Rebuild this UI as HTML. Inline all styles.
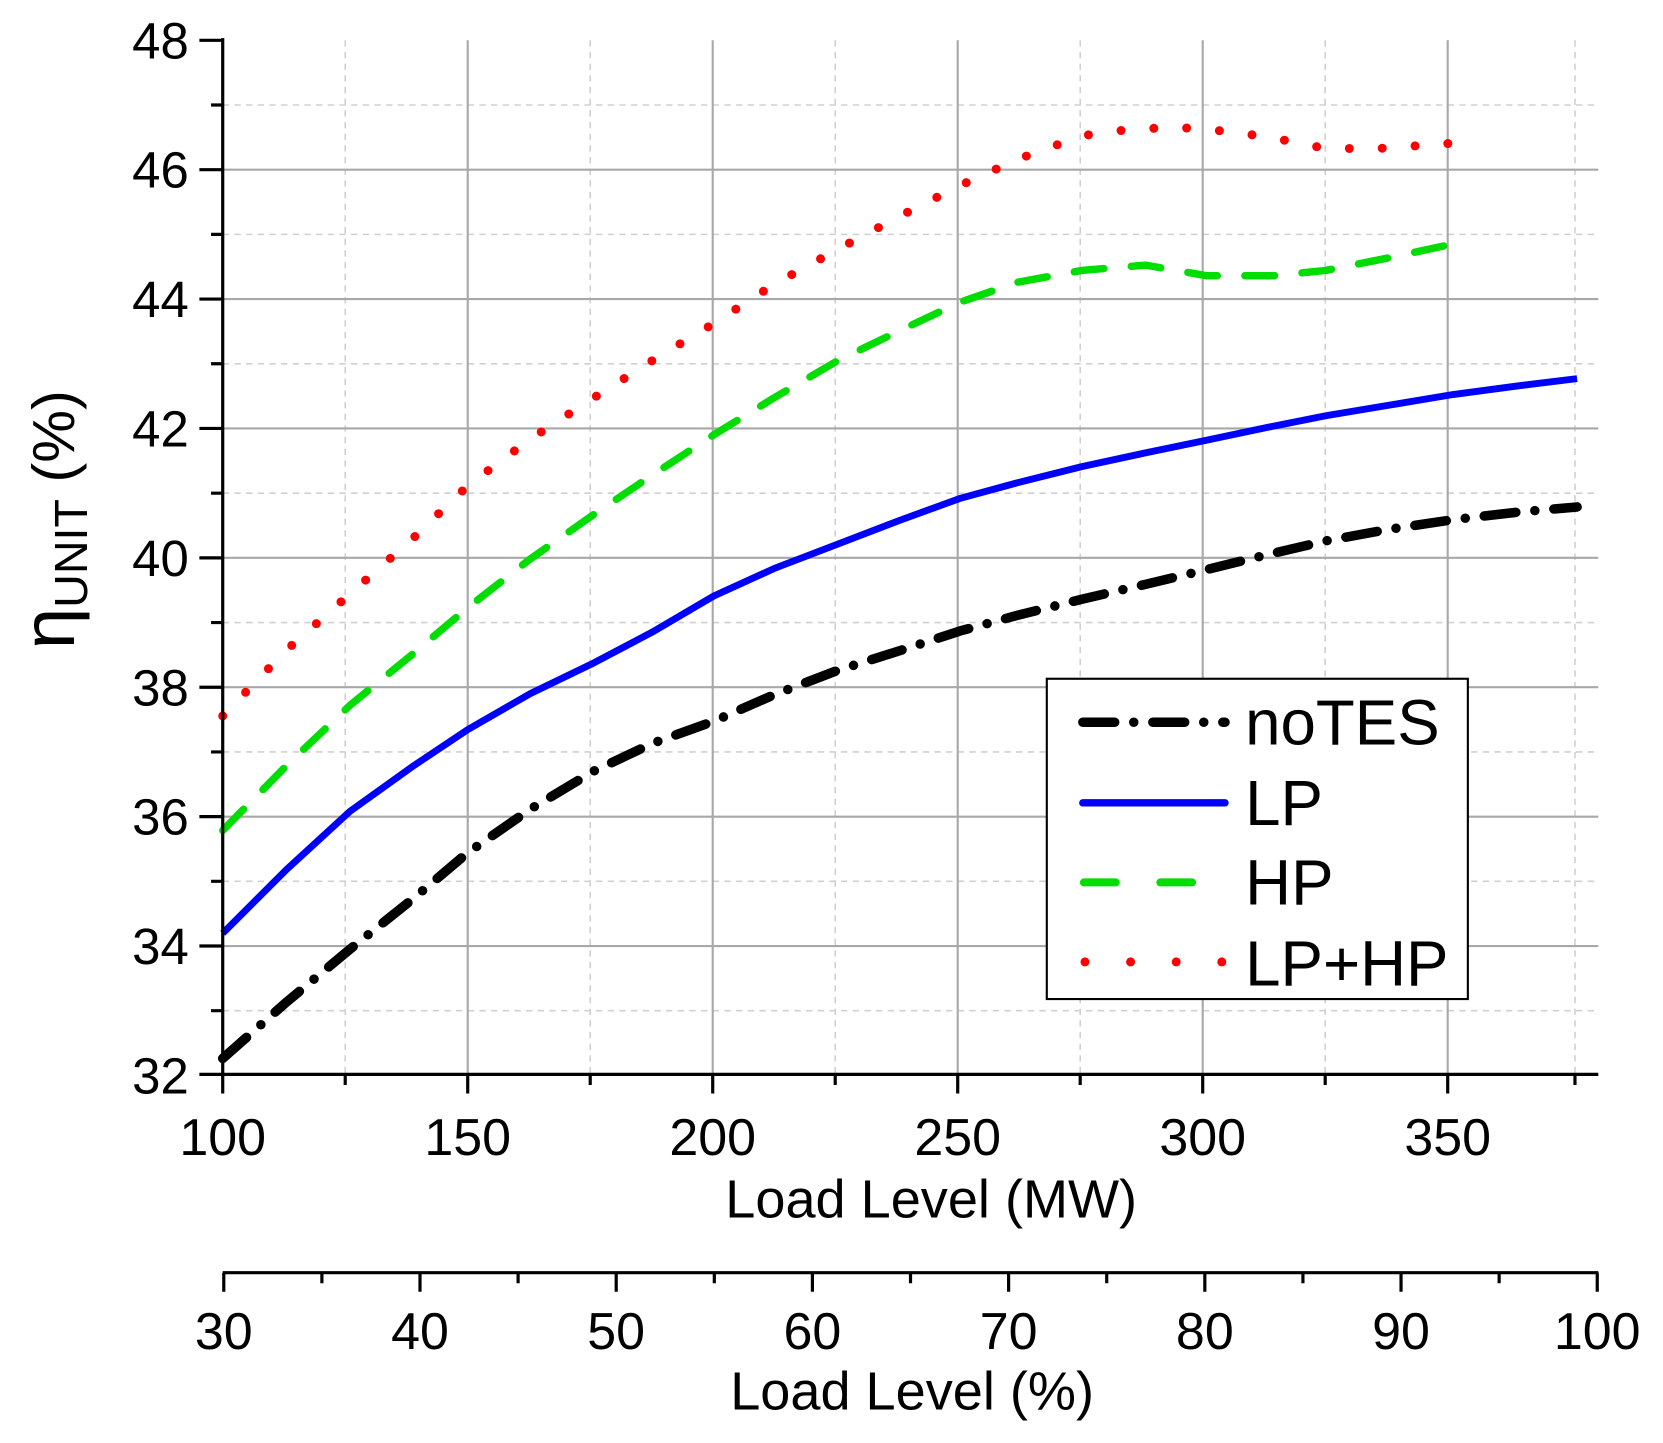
<!DOCTYPE html>
<html><head><style>html,body{margin:0;padding:0;background:#fff}svg{display:block}</style></head><body>
<svg width="1663" height="1443" viewBox="0 0 1568 1360.6" preserveAspectRatio="none" xmlns="http://www.w3.org/2000/svg" font-family="Liberation Sans, Arial, sans-serif">
<g stroke="#d0d0d0" stroke-width="1.5" stroke-dasharray="6 5">
<line x1="325.5" y1="38" x2="325.5" y2="1013"/><line x1="556.5" y1="38" x2="556.5" y2="1013"/><line x1="787.5" y1="38" x2="787.5" y2="1013"/><line x1="1018.5" y1="38" x2="1018.5" y2="1013"/><line x1="1249.5" y1="38" x2="1249.5" y2="1013"/><line x1="1485" y1="38" x2="1485" y2="1013"/>
<line x1="210" y1="99" x2="1507" y2="99"/><line x1="210" y1="221" x2="1507" y2="221"/><line x1="210" y1="343" x2="1507" y2="343"/><line x1="210" y1="465" x2="1507" y2="465"/><line x1="210" y1="587" x2="1507" y2="587"/><line x1="210" y1="709" x2="1507" y2="709"/><line x1="210" y1="831" x2="1507" y2="831"/><line x1="210" y1="953" x2="1507" y2="953"/>
</g>
<g stroke="#a8a8a8" stroke-width="2">
<line x1="441" y1="38" x2="441" y2="1013"/><line x1="672" y1="38" x2="672" y2="1013"/><line x1="903" y1="38" x2="903" y2="1013"/><line x1="1134" y1="38" x2="1134" y2="1013"/><line x1="1365" y1="38" x2="1365" y2="1013"/>
<line x1="210" y1="160" x2="1507" y2="160"/><line x1="210" y1="282" x2="1507" y2="282"/><line x1="210" y1="404" x2="1507" y2="404"/><line x1="210" y1="526" x2="1507" y2="526"/><line x1="210" y1="648" x2="1507" y2="648"/><line x1="210" y1="770" x2="1507" y2="770"/><line x1="210" y1="892" x2="1507" y2="892"/>
</g>
<g fill="none" stroke-linejoin="round">
<polyline stroke="#000" stroke-width="9" stroke-linecap="round" stroke-dasharray="30 18 0 18" points="210,998 270,945 330,895 390,847 441,804 500,763 560,727 615,701 673,680 730,655 790,632 850,613 905,595 960,580 1020,565 1080,551 1138,537 1195,523 1250,510 1310,499 1370,490 1430,483 1487,478"/>
<polyline stroke="#0000ff" stroke-width="6.5" points="210,880 270,820 330,765 390,722 441,688 500,654 560,625 615,596 673,562 730,536 790,513 850,490 905,470 960,455 1020,440 1080,427 1138,415 1195,403 1250,392 1310,382 1370,372 1430,364 1487,357"/>
<polyline stroke="#00dd00" stroke-width="7" stroke-linecap="round" stroke-dasharray="28 26" points="210,783 270,722 330,665 390,616 441,573 500,527 560,485 615,448 673,410 730,375 790,340 850,311 905,285 960,266 1020,255 1080,250 1138,260 1200,260 1250,255 1310,243 1370,230"/>
<polyline stroke="#ff0000" stroke-width="8.5" stroke-linecap="round" stroke-dasharray="0 31" points="210,675 270,613 330,560 390,507 441,458 500,414 560,375 615,340 673,305 730,268 790,235 850,203 905,175 960,150 1020,128 1065,122 1110,120 1160,124 1200,130 1250,140 1300,140 1370,135"/>
</g>
<g stroke="#000" stroke-width="3" fill="none">
<line x1="210" y1="36" x2="210" y2="1015"/><line x1="208" y1="1013" x2="1507" y2="1013"/>
<path d="M188 38H210M188 160H210M188 282H210M188 404H210M188 526H210M188 648H210M188 770H210M188 892H210M188 1013H210M199 99H210M199 221H210M199 343H210M199 465H210M199 587H210M199 709H210M199 831H210M199 953H210"/>
<path d="M210 1013V1031M441 1013V1031M672 1013V1031M903 1013V1031M1134 1013V1031M1365 1013V1031M325.5 1013V1023M556.5 1013V1023M787.5 1013V1023M1018.5 1013V1023M1249.5 1013V1023M1485 1013V1023"/>
<line x1="210" y1="1200" x2="1507" y2="1200"/>
<path d="M211 1200V1218M396 1200V1218M581 1200V1218M766 1200V1218M951 1200V1218M1136 1200V1218M1321 1200V1218M1506 1200V1218M303.5 1200V1210M488.5 1200V1210M673.5 1200V1210M858.5 1200V1210M1043.5 1200V1210M1228.5 1200V1210M1413.5 1200V1210"/>
</g>
<g font-size="48" fill="#000" text-anchor="end">
<text x="178" y="55">48</text><text x="178" y="177">46</text><text x="178" y="299">44</text><text x="178" y="421">42</text><text x="178" y="543">40</text><text x="178" y="665">38</text><text x="178" y="787">36</text><text x="178" y="909">34</text><text x="178" y="1031">32</text>
</g>
<g font-size="49" fill="#000" text-anchor="middle">
<text x="210" y="1089">100</text><text x="441" y="1089">150</text><text x="672" y="1089">200</text><text x="903" y="1089">250</text><text x="1134" y="1089">300</text><text x="1365" y="1089">350</text>
<text x="878" y="1148" font-size="51">Load Level (MW)</text>
<text x="211" y="1272">30</text><text x="396" y="1272">40</text><text x="581" y="1272">50</text><text x="766" y="1272">60</text><text x="951" y="1272">70</text><text x="1136" y="1272">80</text><text x="1321" y="1272">90</text><text x="1506" y="1272">100</text>
<text x="860" y="1329" font-size="51">Load Level (%)</text>
</g>
<text transform="translate(70,490) rotate(-90)" text-anchor="middle" font-size="56" fill="#000"><tspan font-size="70">η</tspan><tspan font-size="44" dy="12">UNIT</tspan><tspan dy="-12"> (%)</tspan></text>
<rect x="987" y="640" width="397" height="302" fill="#fff" stroke="#000" stroke-width="2"/>
<line x1="1021" y1="681" x2="1155" y2="681" stroke="#000" stroke-width="9" stroke-linecap="round" stroke-dasharray="30 18 0 18"/>
<line x1="1021" y1="757" x2="1155" y2="757" stroke="#0000ff" stroke-width="7" stroke-linecap="round"/>
<line x1="1022" y1="832" x2="1155" y2="832" stroke="#00dd00" stroke-width="7.5" stroke-linecap="round" stroke-dasharray="30 42"/>
<line x1="1023" y1="907" x2="1155" y2="907" stroke="#ff0000" stroke-width="8.5" stroke-linecap="round" stroke-dasharray="0 43"/>
<g font-size="60" fill="#000"><text x="1174" y="702">noTES</text><text x="1174" y="778">LP</text><text x="1174" y="853">HP</text><text x="1174" y="929">LP+HP</text></g>
</svg>
</body></html>
